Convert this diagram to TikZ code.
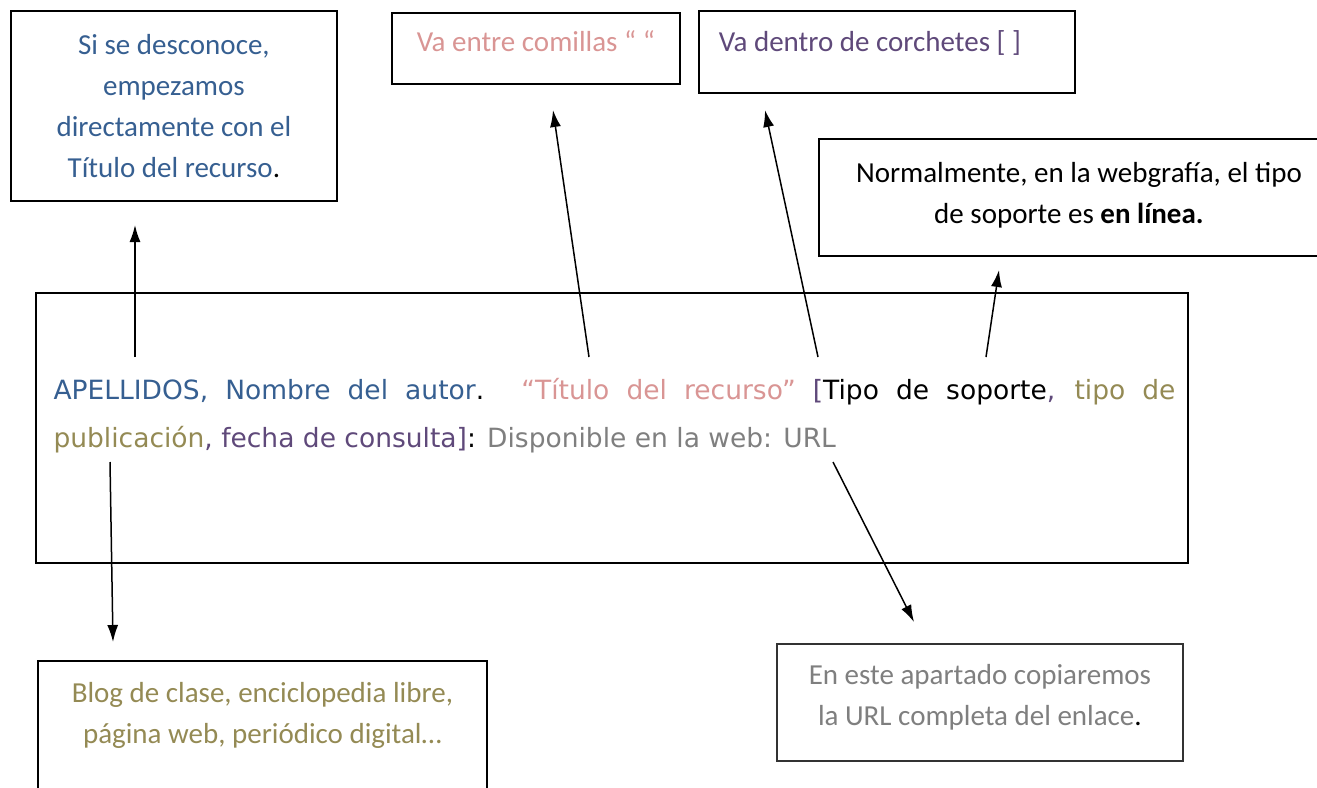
\documentclass[tikz,border=0pt]{standalone}
\usepackage{fontspec}
\setmainfont{Carlito}
\newfontfamily\handfont{DejaVu Sans}
\usepackage{xcolor}
\usepackage{tikz}
\usetikzlibrary{arrows.meta,positioning}

\begin{document}
\begin{tikzpicture}[x=1pt,y=-1pt,
    box/.style={draw, line width=1.8pt, anchor=north west, align=center, inner sep=0pt},
    note/.style={font=\fontsize{29}{41}\selectfont},
    hand/.style={font=\handfont\fontsize{26.5}{48}\selectfont},
    pointer/.style={line width=1.5pt, -{Latex[length=17pt,width=11pt]}}]

% Define colors
\definecolor{refblue}{RGB}{54,95,145}
\definecolor{refpink}{RGB}{217,149,148}
\definecolor{refpurple}{RGB}{95,73,122}
\definecolor{refolive}{RGB}{148,138,84}
\definecolor{refgray}{RGB}{127,127,127}

\useasboundingbox (0,0) rectangle (1317,787);

% Explanation boxes
\node[box, note, minimum width=326pt, minimum height=190pt, text=refblue] (desconoce) at (10,10)
    {Si se desconoce,\\empezamos\\directamente con el\\Título del recurso\textcolor{black}{.}};
\node[box, note, minimum width=288pt, minimum height=71pt, text=refpink] (comillas) at (391,12)
    {Va entre comillas “ “\rule[-14pt]{0pt}{1pt}};
\node[box, note, minimum width=376pt, minimum height=82pt, text=refpurple] (corchetes) at (698,10)
    {Va dentro de corchetes [ ]\hspace{34pt}\rule[-22pt]{0pt}{1pt}};
\node[box, note, minimum width=520pt, minimum height=117pt] (enlinea) at (818,138)
    {Normalmente, en la webgrafía, el tipo\\de soporte es \textbf{en línea.}\hspace{20pt}\rule[-8pt]{0pt}{1pt}};
\node[box, note, minimum width=449pt, minimum height=145pt, text=refolive] (tipos) at (37,660)
    {Blog de clase, enciclopedia libre,\\página web, periódico digital…\\\mbox{}};
\node[box, note, minimum width=406pt, minimum height=117pt, text=refgray, draw=black!80] (enlace) at (776,643)
    {En este apartado copiaremos\\la URL completa del enlace\textcolor{black}{.}\rule[-14pt]{0pt}{1pt}};

% Reference format
\node[box, minimum width=1152pt, minimum height=270pt] (formato) at (35,292) {};
\node[hand, anchor=base west] (linea1) at (50,399) {\makebox[1122pt][s]{%
    \textcolor{refblue}{APELLIDOS, Nombre del autor}. \textcolor{refpink}{“Título del recurso”}
    \textcolor{refpurple}{[}Tipo de soporte\textcolor{refpurple}{,} \textcolor{refolive}{tipo de}}};
\node[hand, anchor=base west] (linea2) at (50,447) {%
    \textcolor{refolive}{publicación}\textcolor{refpurple}{, fecha de consulta]}:
    \textcolor{refgray}{Disponible en la web: URL}};

% Arrow ends
\coordinate (apell) at (135,357);
\coordinate (titulo) at (589,357);
\coordinate (corchete) at (818,357);
\coordinate (tiposop) at (986,357);
\coordinate (tipopub) at (110,462);
\coordinate (url) at (833,462);
\coordinate (apellTip) at (135,225);
\coordinate (tituloTip) at (553,110);
\coordinate (corcheteTip) at (765,110);
\coordinate (tiposopTip) at (999,270);
\coordinate (tipopubTip) at (113,642);
\coordinate (urlTip) at (914,622);

% Arrows
\draw[pointer] (apell) -- (apellTip);
\draw[pointer] (titulo) -- (tituloTip);
\draw[pointer] (corchete) -- (corcheteTip);
\draw[pointer] (tiposop) -- (tiposopTip);
\draw[pointer] (tipopub) -- (tipopubTip);
\draw[pointer] (url) -- (urlTip);

\end{tikzpicture}
\end{document}
